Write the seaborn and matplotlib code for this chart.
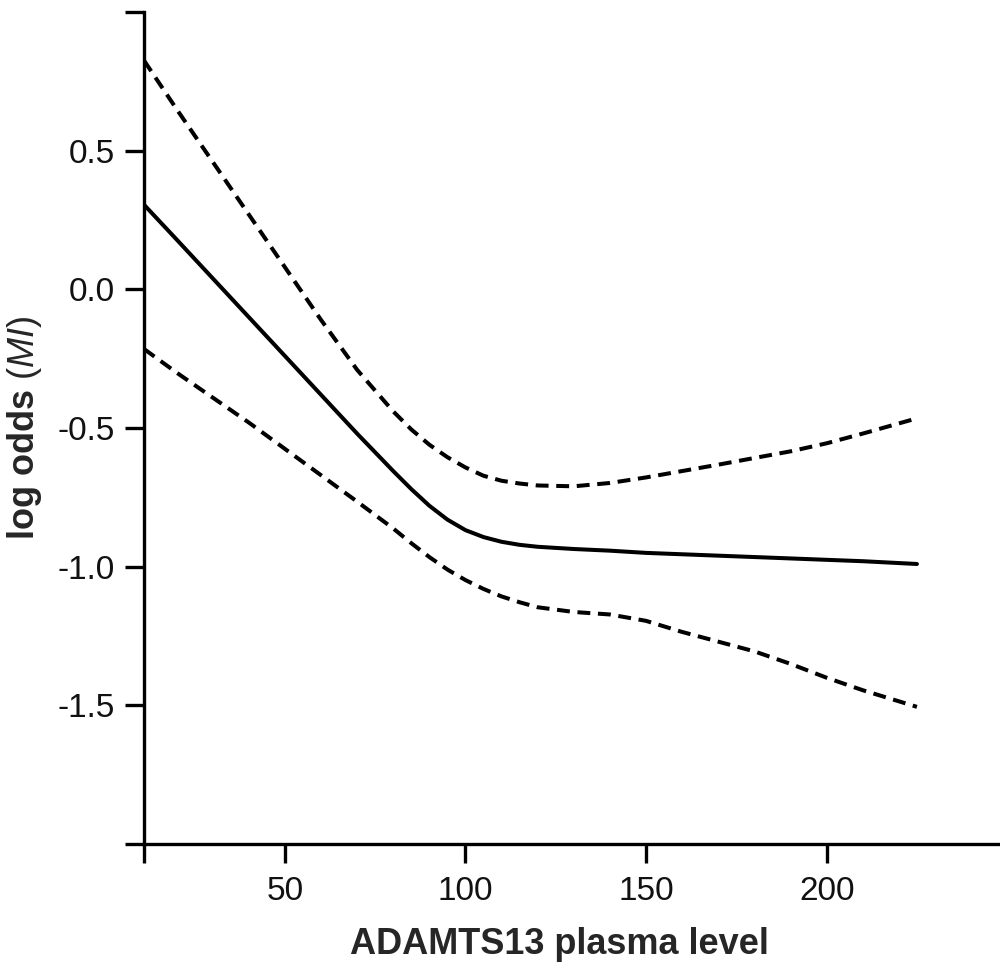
import matplotlib
matplotlib.use("Agg")
import matplotlib.pyplot as plt
import seaborn as sns
import pandas as pd

# ---- data ----
level = [11, 20, 30, 40, 50, 60, 70, 80, 85, 90, 95, 100, 105, 110, 115, 120,
         130, 140, 150, 160, 170, 180, 190, 200, 210, 225]
log_odds = [0.305, 0.18, 0.04, -0.10, -0.24, -0.38, -0.52, -0.655, -0.72, -0.78,
            -0.83, -0.868, -0.893, -0.91, -0.921, -0.928, -0.936, -0.942, -0.95,
            -0.955, -0.96, -0.965, -0.97, -0.975, -0.98, -0.99]
upper_ci = [0.825, 0.65, 0.46, 0.27, 0.08, -0.11, -0.29, -0.44, -0.505, -0.56,
            -0.605, -0.642, -0.672, -0.69, -0.70, -0.707, -0.71, -0.698, -0.678,
            -0.655, -0.632, -0.608, -0.584, -0.555, -0.52, -0.465]
lower_ci = [-0.215, -0.30, -0.39, -0.48, -0.575, -0.67, -0.765, -0.862, -0.915,
            -0.965, -1.01, -1.048, -1.08, -1.107, -1.128, -1.146, -1.163, -1.172,
            -1.195, -1.235, -1.27, -1.305, -1.35, -1.40, -1.445, -1.505]

x_ticks = [11, 50, 100, 150, 200]
x_tick_labels = ["", "50", "100", "150", "200"]
y_ticks = [-2.0, -1.5, -1.0, -0.5, 0.0, 0.5, 1.0]
y_tick_labels = ["", "-1.5", "-1.0", "-0.5", "0.0", "0.5", ""]

sns.set_style("ticks")
plt.rcParams['font.family'] = ['Liberation Sans', 'DejaVu Sans']
plt.rcParams['mathtext.fontset'] = 'custom'
plt.rcParams['mathtext.rm'] = 'Liberation Sans'
plt.rcParams['mathtext.it'] = 'Liberation Sans:italic'
plt.rcParams['mathtext.bf'] = 'Liberation Sans:bold'

df = pd.DataFrame({"level": level, "fit": log_odds, "upper": upper_ci, "lower": lower_ci})

fig = plt.figure(figsize=(10, 9.67), dpi=100)
ax = fig.add_axes([0.144, 0.127, 0.856, 0.8607])

lw = 2.9
dash = (0, (3.2, 1.9))
sns.lineplot(data=df, x="level", y="fit", ax=ax, color="black", linewidth=lw)
sns.lineplot(data=df, x="level", y="upper", ax=ax, color="black", linewidth=lw,
             linestyle=dash)
sns.lineplot(data=df, x="level", y="lower", ax=ax, color="black", linewidth=lw,
             linestyle=dash)

ax.set_xlim(11, 248)
ax.set_ylim(-2.0, 1.0)
ax.set_xticks(x_ticks)
ax.set_xticklabels(x_tick_labels)
ax.set_yticks(y_ticks)
ax.set_yticklabels(y_tick_labels)

for s in ["top", "right"]:
    ax.spines[s].set_visible(False)
for s in ["left", "bottom"]:
    ax.spines[s].set_linewidth(2.4)
    ax.spines[s].set_color("black")

ax.tick_params(axis="both", direction="out", length=14, width=2.4, color="black",
               labelsize=24, labelcolor="#111111")
ax.tick_params(axis="y", pad=7)
ax.tick_params(axis="x", pad=9)

ax.set_xlabel("ADAMTS13 plasma level", fontsize=26, fontweight="bold")
ax.set_ylabel(r"$\mathbf{log\ odds}\ \mathit{(MI)}$", fontsize=26)
ax.xaxis.set_label_coords(0.485, -0.1)
ax.yaxis.set_label_coords(-0.117, 0.5)

fig.savefig("out.png", dpi=100)
